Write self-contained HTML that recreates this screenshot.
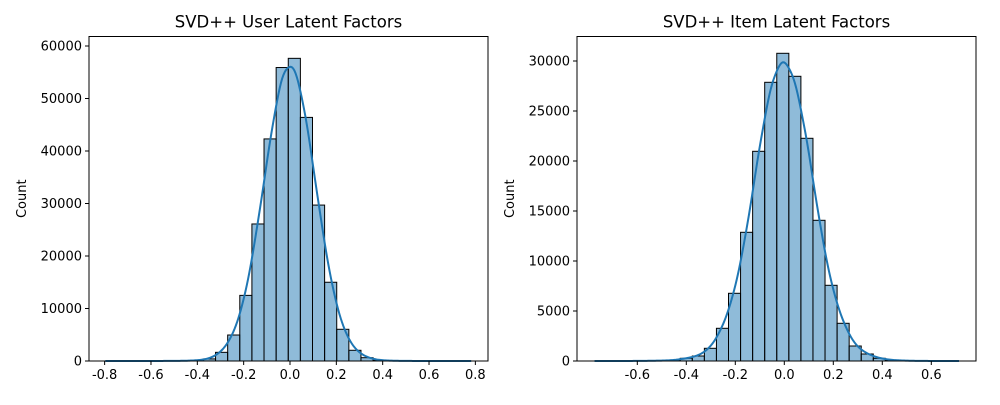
<!DOCTYPE html>
<html><head><meta charset="utf-8"><style>
body{margin:0;background:#fff;}
svg text{font-family:"DejaVu Sans","Liberation Sans",sans-serif;fill:#000;}
</style></head><body>
<svg id="chart" width="1000" height="400" xmlns="http://www.w3.org/2000/svg"></svg>
<script>
// Left chart: user latent factors (30 bins)
const userBinLo = -0.792, userBinHi = 0.777;
const userCounts = [0,0,0,5,10,20,40,120,400,1650,4950,12500,26100,42300,55900,57650,46400,29700,15000,6040,2040,630,150,50,20,8,4,2,1,1];
const userXTicks = [-0.8,-0.6,-0.4,-0.2,0.0,0.2,0.4,0.6,0.8];
const userYTicks = [0,10000,20000,30000,40000,50000,60000];
// Right chart: item latent factors (30 bins)
const itemBinLo = -0.7695, itemBinHi = 0.708;
const itemCounts = [0,1,3,8,20,40,80,270,500,1270,3270,6770,12870,20970,27870,30770,28470,22270,14070,7570,3770,1500,700,270,100,40,15,6,2,1];
const itemXTicks = [-0.6,-0.4,-0.2,0.0,0.2,0.4,0.6];
const itemYTicks = [0,5000,10000,15000,20000,25000,30000];

const NS="http://www.w3.org/2000/svg";
const svg=document.getElementById('chart');
function mk(tag,attrs,parent){const e=document.createElementNS(NS,tag);for(const k in attrs)e.setAttribute(k,attrs[k]);(parent||svg).appendChild(e);return e;}

function panel(cfg){
  const g=mk('g',{});
  
  
  const {L,R,T,B}=cfg;
  const xs=v=>cfg.x0+v*cfg.xpu;
  const ys=v=>B-v*cfg.ypu;
  const n=cfg.counts.length, w=(cfg.hi-cfg.lo)/n;
  cfg.counts.forEach((c,i)=>{
    const x1=xs(cfg.lo+i*w), x2=xs(cfg.lo+(i+1)*w);
    const r=mk('rect',{x:x1,y:ys(c),width:x2-x1,height:B-ys(c),fill:'rgba(31,119,180,0.5)',stroke:'#000','stroke-width':1},g);
    
    
  });
  // KDE from bins
  const bw=cfg.bw;let pts=[];
  for(let k=0;k<=300;k++){
    const x=cfg.lo-0.005+(cfg.hi-cfg.lo+0.01)*k/300;
    let d=0;
    cfg.counts.forEach((c,i)=>{const m=cfg.lo+(i+0.5)*w;const z=(x-m)/bw;d+=c*Math.exp(-0.5*z*z);});
    d=d*w/(bw*Math.sqrt(2*Math.PI));
    pts.push(xs(x).toFixed(2)+','+ys(d).toFixed(2));
  }
  const pl=mk('polyline',{points:pts.join(' '),fill:'none',stroke:'#1f77b4','stroke-width':2},g);
  
  
  const fr=mk('rect',{x:L,y:T,width:R-L,height:B-T,fill:'none',stroke:'#000','stroke-width':1},g);
  
  
  cfg.xticks.forEach(t=>{
    mk('line',{x1:xs(t),x2:xs(t),y1:B,y2:B+4,stroke:'#000'},g);
    const tx=mk('text',{x:xs(t),y:B+18,'font-size':'13','text-anchor':'middle'},g);
    tx.textContent=t.toFixed(1);
    
    
  });
  cfg.yticks.forEach(t=>{
    mk('line',{x1:L-4,x2:L,y1:ys(t),y2:ys(t),stroke:'#000'},g);
    const tx=mk('text',{x:L-7,y:ys(t)+4.5,'font-size':'13','text-anchor':'end'},g);
    tx.textContent=String(t);
    
    
  });
  const yl=mk('text',{x:0,y:0,'font-size':'13','text-anchor':'middle',transform:`translate(${cfg.ylx},${(T+B)/2}) rotate(-90)`},g);
  yl.textContent='Count';
  
  
  const ti=mk('text',{x:(L+R)/2,y:T-9,'font-size':'16.5','text-anchor':'middle'},g);
  ti.textContent=cfg.title;
  
  
}
panel({name:'user-factors-panel',L:89,R:488,T:36.5,B:361,x0:290,xpu:231.7,ypu:52.5/10000,lo:userBinLo,hi:userBinHi,counts:userCounts,xticks:userXTicks,yticks:userYTicks,bw:0.032,ylx:26,title:'SVD++ User Latent Factors'});
panel({name:'item-factors-panel',L:577,R:976,T:36.5,B:361,x0:784.3,xpu:245,ypu:100/10000,lo:itemBinLo,hi:itemBinHi,counts:itemCounts,xticks:itemXTicks,yticks:itemYTicks,bw:0.03,ylx:514,title:'SVD++ Item Latent Factors'});
</script>
</body></html>
